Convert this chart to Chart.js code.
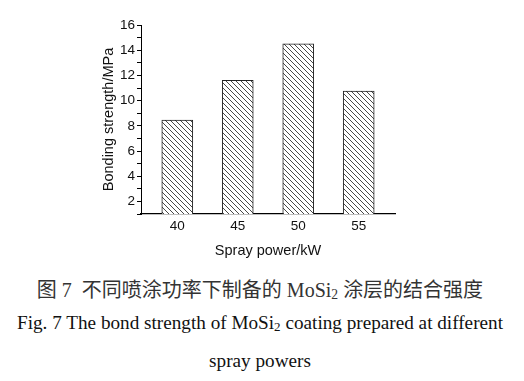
<!DOCTYPE html>
<html>
<head>
<meta charset="utf-8">
<script src="https://cdn.jsdelivr.net/npm/chart.js@4"></script>
<style>
  html, body { margin: 0; padding: 0; background: #fff; }
  #wrap { position: relative; width: 524px; height: 381px; overflow: hidden; }
  #chartBox { position: absolute; left: 0; top: 0; width: 524px; height: 260px; }
  .cap { position: absolute; left: 0; width: 520px; text-align: center; white-space: nowrap;
         font-family: "Liberation Serif", "Noto Sans CJK SC", serif; color: #111; }
  .cap sub { font-size: 0.68em; vertical-align: -0.12em; }
  #cap1 { top: 276px; font-size: 20px; line-height: 28px; color: #333; }
  #cap2 { top: 309px; font-size: 19.2px; line-height: 28px; }
  #cap3 { top: 347px; font-size: 19.2px; line-height: 28px; }
</style>
</head>
<body>
<div id="wrap">
  <div id="chartBox"><canvas id="c"></canvas></div>
  <div class="cap" id="cap1">图 7&nbsp; 不同喷涂功率下制备的 MoSi<sub>2</sub> 涂层的结合强度</div>
  <div class="cap" id="cap2">Fig. 7 The bond strength of MoSi<sub>2</sub> coating prepared at different</div>
  <div class="cap" id="cap3">spray powers</div>
</div>
<script>
// ---- data ----
const powers = [40, 45, 50, 55];                 // Spray power / kW
const bondStrength = [8.45, 11.6, 14.5, 10.75];  // Bonding strength / MPa
const xTickLabels = ['40', '45', '50', '55'];
const xTitle = 'Spray power/kW';
const yTitle = 'Bonding strength/MPa';

// hatch pattern "\\\"
function hatch() {
  const s = 5;
  const c = document.createElement('canvas');
  c.width = s; c.height = s;
  const g = c.getContext('2d');
  g.fillStyle = '#fff';
  g.fillRect(0, 0, s, s);
  g.strokeStyle = '#333';
  g.lineWidth = 0.9;
  g.beginPath();
  g.moveTo(-1, -1); g.lineTo(s + 1, s + 1);
  g.moveTo(-1, s - 1); g.lineTo(1, s + 1);
  g.moveTo(s - 1, -1); g.lineTo(s + 1, 1);
  g.stroke();
  return g.createPattern(c, 'repeat');
}

const font = 'Liberation Sans, Arial, sans-serif';

new Chart(document.getElementById('c'), {
  type: 'bar',
  data: {
    datasets: [{
      data: powers.map((p, i) => ({ x: p, y: bondStrength[i] })),
      backgroundColor: hatch(),
      borderColor: '#222',
      borderWidth: 1,
      borderSkipped: false,
      barThickness: 31
    }]
  },
  options: {
    responsive: true,
    maintainAspectRatio: false,
    animation: false,
    layout: { padding: { left: 100, right: 129, top: 25, bottom: 0 } },
    plugins: { legend: { display: false }, tooltip: { enabled: false } },
    scales: {
      x: {
        type: 'linear',
        offset: false,
        min: 37, max: 58,
        afterBuildTicks: s => { s.ticks = powers.map(v => ({ value: v })); },
        afterFit: s => { s.height = 46; },
        ticks: {
          autoSkip: false,
          color: '#111',
          padding: 4,
          font: { family: font, size: 13.5 },
          callback: (v) => xTickLabels[powers.indexOf(v)] ?? ''
        },
        grid: { offset: false, drawOnChartArea: false, drawTicks: false },
        border: { display: true, color: '#000', width: 1.3 },
        title: {
          display: true, text: xTitle, color: '#111',
          font: { family: font, size: 14.5 }, padding: { top: 3, bottom: 0 }
        }
      },
      y: {
        min: 1, max: 16,
        afterFit: s => { s.width = 41; },
        ticks: {
          stepSize: 1,
          autoSkip: false,
          color: '#111',
          padding: 2,
          font: { family: font, size: 13.5 },
          callback: (v) => (v % 2 === 0 ? String(v) : '')
        },
        grid: { drawOnChartArea: false, drawTicks: true, tickLength: 4, tickColor: '#000', tickWidth: 1 },
        border: { display: true, color: '#000', width: 1 },
        title: {
          display: true, text: yTitle, color: '#111',
          font: { family: font, size: 14.5 }, padding: { top: 0, bottom: 0 }
        }
      }
    }
  }
});
</script>
</body>
</html>
